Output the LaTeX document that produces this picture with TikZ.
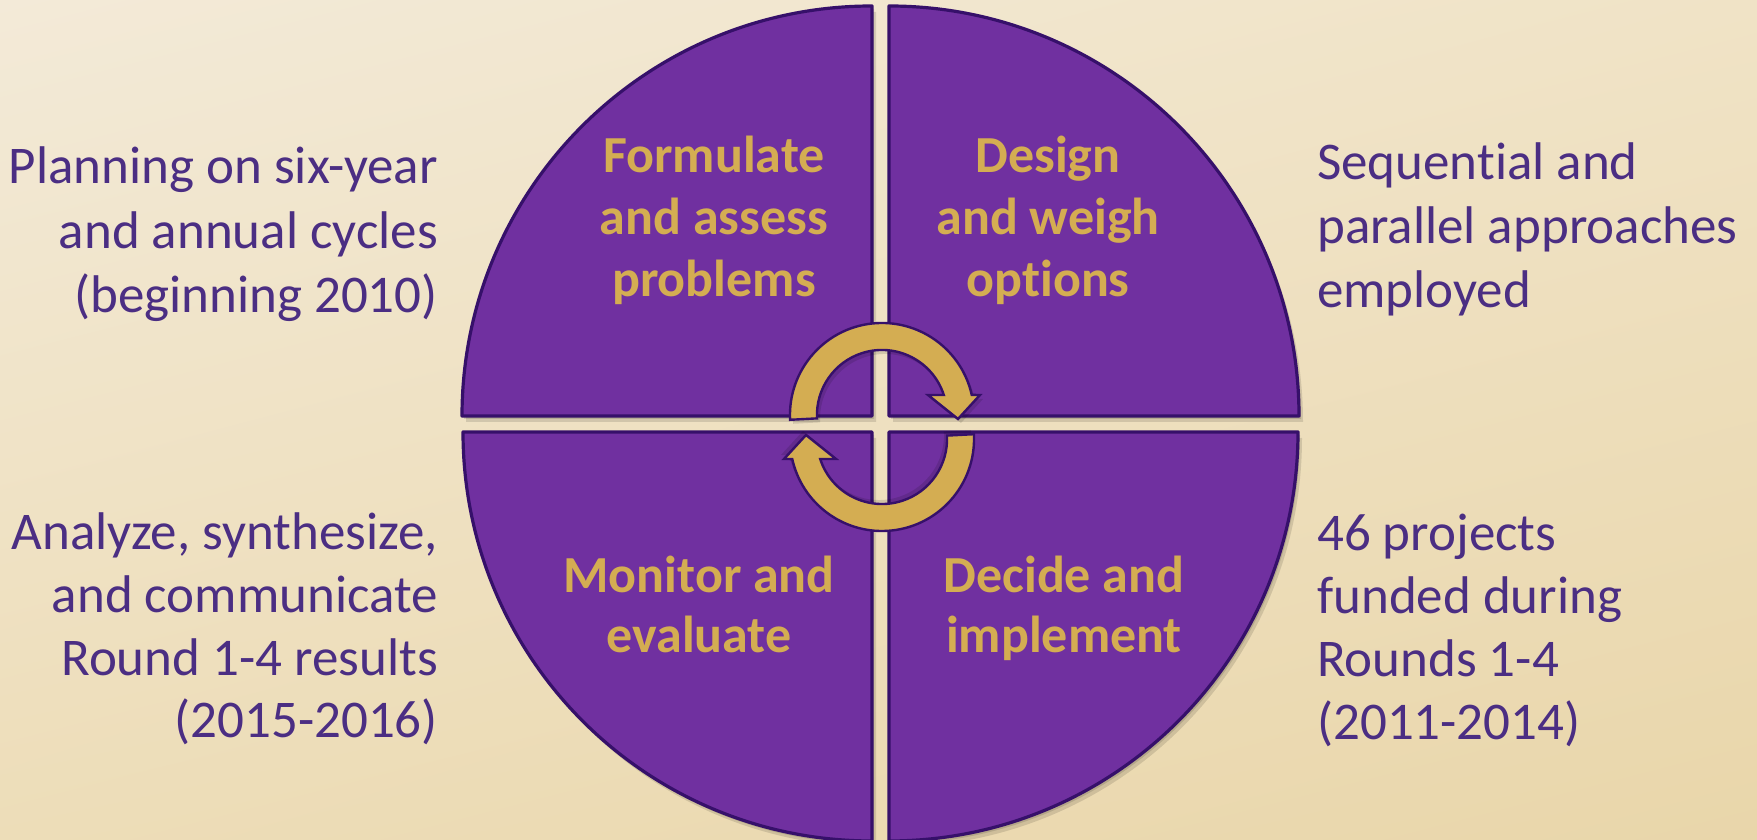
\documentclass[tikz,border=0pt]{standalone}
\usepackage{fontspec}
\setmainfont[Ligatures={NoCommon}]{Carlito}
\usetikzlibrary{shadings}
\definecolor{bgA}{HTML}{F3EAD8}
\definecolor{bgB}{HTML}{F0E3C6}
\definecolor{bgC}{HTML}{EDDDB8}
\definecolor{bgD}{HTML}{E9D6AA}
\definecolor{qfill}{HTML}{7030A0}
\definecolor{qline}{HTML}{36106A}
\definecolor{gold}{HTML}{D4AD52}
\definecolor{sidetxt}{HTML}{4B2E83}
\begin{document}
\begin{tikzpicture}[x=1pt,y=1pt,
  quad/.style={fill=qfill,draw=qline,line width=3.2pt,line join=round},
  qshadow/.style={fill=black,opacity=0.12},
  cyc/.style={fill=gold,draw=qline,line width=2.4pt,line join=miter},
  sidetext/.style={text=sidetxt,font=\fontsize{53}{64.5}\selectfont,inner sep=0pt},
  quadtext/.style={text=gold,font=\bfseries\fontsize{52}{62}\selectfont,inner sep=0pt,align=center}]

\useasboundingbox (0,0) rectangle (1757,840);
\shade[upper left=bgA, upper right=bgB, lower left=bgC, lower right=bgD] (0,0) rectangle (1757,840);

% shadows of the quadrants
\foreach \dx/\dy in {2/-3,4/-6}{
  \begin{scope}[shift={(\dx,\dy)}]
    \path[qshadow] (872,424) -- (462,424) arc[start angle=180,end angle=90,radius=410] -- cycle;
    \path[qshadow] (889,424) -- (889,834) arc[start angle=90,end angle=0,radius=410] -- cycle;
    \path[qshadow] (872,408) -- (872,-1) arc[start angle=270,end angle=180,radius=409] -- cycle;
    \path[qshadow] (889,408) -- (1298,408) arc[start angle=0,end angle=-90,radius=409] -- cycle;
  \end{scope}
}

% quadrants
\path[quad] (872,424) -- (462,424) arc[start angle=180,end angle=90,radius=410] -- cycle;
\path[quad] (889,424) -- (889,834) arc[start angle=90,end angle=0,radius=410] -- cycle;
\path[quad] (872,408) -- (872,-1) arc[start angle=270,end angle=180,radius=409] -- cycle;
\path[quad] (889,408) -- (1298,408) arc[start angle=0,end angle=-90,radius=409] -- cycle;

% cycle arrows (shadow, then arrow)
\foreach \r in {0,180}{
  \begin{scope}[rotate around={\r:(882,413)}]
    \path[qshadow,shift={(3,-4)}] (790.1,420.2) arc[start angle=183,end angle=12.6,radius=92]
      -- (980,445) -- (958,421) -- (928,445) -- (943.8,445)
      arc[start angle=17.9,end angle=183,radius=65] -- cycle;
    \path[cyc] (790.1,420.2) arc[start angle=183,end angle=12.6,radius=92]
      -- (980,445) -- (958,421) -- (928,445) -- (943.8,445)
      arc[start angle=17.9,end angle=183,radius=65] -- cycle;
  \end{scope}
}

% quadrant labels (anchor = baseline of last line)
\node[quadtext,anchor=base] (q1) at (714,543) {Formulate\\and assess\\problems};
\node[quadtext,anchor=base] (q2) at (1048,543) {Design\\and weigh\\options};
\node[quadtext,anchor=base,font=\bfseries\fontsize{52}{60}\selectfont] (q3) at (699,187) {Monitor and\\evaluate};
\node[quadtext,anchor=base,font=\bfseries\fontsize{52}{60}\selectfont] (q4) at (1064,187) {Decide and\\implement};

% side texts
\node[sidetext,anchor=base east,align=right] (t1) at (438,527) {Planning on six-year\\and annual cycles\\(beginning 2010)};
\node[sidetext,anchor=base west,align=left,font=\fontsize{53}{64}\selectfont] (t2) at (1317,532) {Sequential and\\parallel approaches\\employed};
\node[sidetext,anchor=base east,align=right,font=\fontsize{53}{62.7}\selectfont] (t3) at (438,102) {Analyze, synthesize,\\and communicate\\Round 1-4 results\\(2015-2016)};
\node[sidetext,anchor=base west,align=left,font=\fontsize{53}{63.3}\selectfont] (t4) at (1317,100) {46 projects\\funded during\\Rounds 1-4\\(2011-2014)};
\end{tikzpicture}
\end{document}
